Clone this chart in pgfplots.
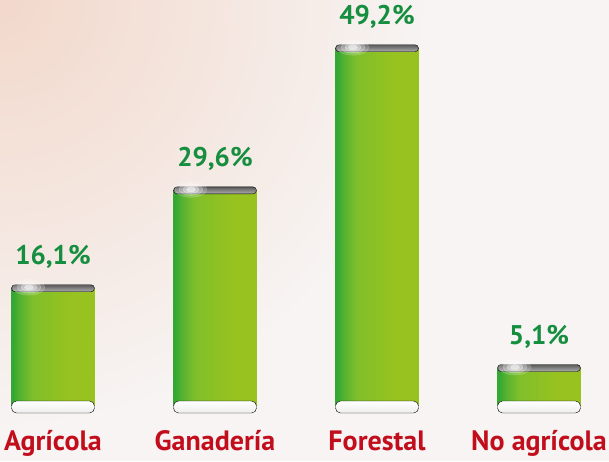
\documentclass[border=0pt]{standalone}
\usepackage{pgfplots}
\pgfplotsset{compat=1.18}
\usepackage{fontspec}
\setmainfont{PT Sans}

\definecolor{bgA}{HTML}{F2D8CB}
\definecolor{bgB}{HTML}{F7F4F3}
\definecolor{gA}{HTML}{34A833}
\definecolor{gAB}{HTML}{55B230}
\definecolor{gB}{HTML}{80BF2B}
\definecolor{gC}{HTML}{97C21F}
\definecolor{capT}{HTML}{5A5A5A}
\definecolor{capB}{HTML}{B0B0B0}
\definecolor{valgreen}{HTML}{168E3F}
\definecolor{catred}{HTML}{C20E1C}

% can body: dark green at the left edge, lime on the right
\pgfdeclarehorizontalshading{can}{100bp}{color(0bp)=(gA); color(26bp)=(gA); color(30bp)=(gAB); color(38bp)=(gB); color(60bp)=(gC); color(100bp)=(gC)}

% grey lid with a soft white glint on the left
\pgfdeclareplotmark{can cap}{%
  \shade[top color=capT, bottom color=capB, rounded corners=3.5pt] (-41.5pt,-3.5pt) rectangle (41.5pt,3.5pt);
  \fill[white, opacity=0.18] (-24pt,1pt) ellipse (16pt and 8pt);
  \fill[white, opacity=0.25] (-24pt,1pt) ellipse (12pt and 6pt);
  \fill[white, opacity=0.35] (-24pt,1pt) ellipse (8pt and 4pt);
  \fill[white, opacity=0.5] (-24pt,1pt) ellipse (4.5pt and 2.5pt);
}
% white rim under the can
\pgfdeclareplotmark{can base}{%
  \shade[top color=white, bottom color=black!7, rounded corners=5pt] (-41.5pt,-8pt) rectangle (41.5pt,4pt);
}

\pgfplotsset{canbar/.style={ybar, bar width=83pt, bar shift=0pt, draw=none, shade, shading=can,
  nodes near coords, point meta=explicit symbolic,
  every node near coord/.append style={font=\fontsize{27}{27}\selectfont\bfseries, text=valgreen, anchor=base, inner sep=0pt, yshift=24pt}}}

\begin{document}
\begin{tikzpicture}
\useasboundingbox (0,0) rectangle (609pt,461pt);
\fill[bgB] (0,0) rectangle (609pt,461pt);
\begin{scope}
  \clip (0,0) rectangle (609pt,461pt);
  \shade[inner color=bgA, outer color=bgB] (0,461pt) circle (430pt);
\end{scope}
\begin{axis}[
  at={(0pt,56pt)}, anchor=south west,
  scale only axis, width=609pt, height=405pt,
  xmin=-0.327, xmax=3.432, ymin=0, ymax=55.86,
  axis line style={draw=none}, major tick length=0pt,
  ytick=\empty, xtick={0,1,2,3},
  xticklabels={Agrícola,Ganadería,Forestal,No agrícola},
  xticklabel style={font=\fontsize{28}{28}\selectfont\bfseries, text=catred, anchor=base, yshift=-45pt},
  clip=false,
]
\addplot[only marks, mark=can base] coordinates {(0,0) (1,0) (2,0) (3,0)};
\addplot[canbar] coordinates {(0,16.1) [16,1\%]};
\addplot[canbar] coordinates {(1,29.6) [29,6\%]};
\addplot[canbar] coordinates {(2,49.2) [49,2\%]};
\addplot[canbar] coordinates {(3,5.1) [5,1\%]};
\addplot[only marks, mark=can cap] coordinates {(0,16.1) (1,29.6) (2,49.2) (3,5.1)};
\end{axis}
\end{tikzpicture}
\end{document}
